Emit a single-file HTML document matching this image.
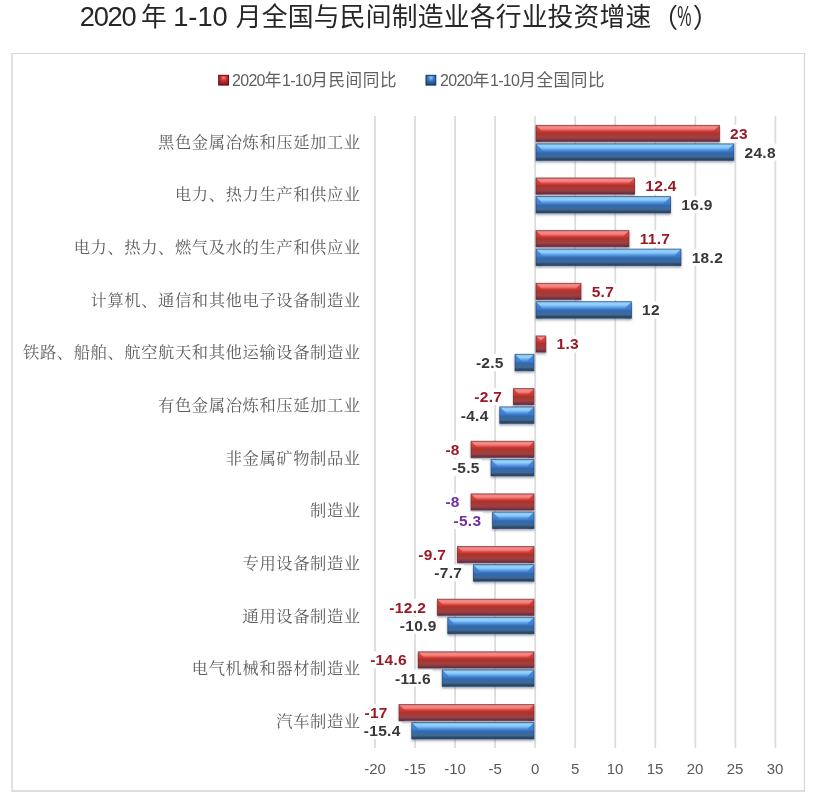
<!DOCTYPE html>
<html><head><meta charset="utf-8"><title>chart</title>
<style>
html,body{margin:0;padding:0;background:#fff;}
body{width:814px;height:800px;overflow:hidden;position:relative;}
svg{position:absolute;left:0;top:0;}
.title{font-family:"Liberation Sans","Noto Sans CJK SC",sans-serif;font-size:25.8px;fill:#262626;}
.leg{font-family:"Liberation Sans","Noto Sans CJK SC",sans-serif;font-size:16.6px;fill:#5f5f5f;letter-spacing:0.6px;}
.dg{font-size:16px;letter-spacing:-0.7px;}
.cat{font-family:"Liberation Serif","Noto Serif CJK SC",serif;font-size:16.3px;fill:#5e5e5e;letter-spacing:0.6px;}
.tick{font-family:"Liberation Sans","Noto Sans CJK SC",sans-serif;font-size:15px;fill:#595959;}
.lblr{font-family:"Liberation Sans","Noto Sans CJK SC",sans-serif;font-size:15.5px;font-weight:bold;fill:#9a1a24;letter-spacing:0.3px;}
.lblb{font-family:"Liberation Sans","Noto Sans CJK SC",sans-serif;font-size:15.5px;font-weight:bold;fill:#383838;letter-spacing:0.3px;}
.lblp{font-family:"Liberation Sans","Noto Sans CJK SC",sans-serif;font-size:15.5px;font-weight:bold;fill:#7030a0;letter-spacing:0.3px;}
</style></head>
<body>
<svg width="814" height="800" viewBox="0 0 814 800">
<defs>
<linearGradient id="gR" x1="0" y1="0" x2="0" y2="1">
<stop offset="0" stop-color="#c46a6a"/>
<stop offset="0.08" stop-color="#f08880"/>
<stop offset="0.16" stop-color="#f58a82"/>
<stop offset="0.25" stop-color="#f07272"/>
<stop offset="0.31" stop-color="#e05252"/>
<stop offset="0.38" stop-color="#c83a38"/>
<stop offset="0.47" stop-color="#b03229"/>
<stop offset="0.6" stop-color="#a83832"/>
<stop offset="0.75" stop-color="#a04040"/>
<stop offset="0.85" stop-color="#8a3a48"/>
<stop offset="0.94" stop-color="#683040"/>
<stop offset="1" stop-color="#6c3848"/>
</linearGradient>
<linearGradient id="gB" x1="0" y1="0" x2="0" y2="1">
<stop offset="0" stop-color="#7aaadc"/>
<stop offset="0.1" stop-color="#90d0fc"/>
<stop offset="0.2" stop-color="#8ecefb"/>
<stop offset="0.27" stop-color="#78b8f0"/>
<stop offset="0.36" stop-color="#5a98e0"/>
<stop offset="0.47" stop-color="#3a78c8"/>
<stop offset="0.55" stop-color="#3068b0"/>
<stop offset="0.68" stop-color="#3a6aa0"/>
<stop offset="0.8" stop-color="#406890"/>
<stop offset="0.9" stop-color="#2a4a70"/>
<stop offset="1" stop-color="#2c4666"/>
</linearGradient>
<linearGradient id="eR" x1="0" y1="0" x2="0" y2="1">
<stop offset="0" stop-color="#d44c46"/>
<stop offset="0.38" stop-color="#c63a36"/>
<stop offset="0.47" stop-color="#b03229"/>
<stop offset="0.6" stop-color="#a83832"/>
<stop offset="0.75" stop-color="#a04040"/>
<stop offset="0.85" stop-color="#8a3a48"/>
<stop offset="0.94" stop-color="#683040"/>
<stop offset="1" stop-color="#6c3848"/>
</linearGradient>
<linearGradient id="eB" x1="0" y1="0" x2="0" y2="1">
<stop offset="0" stop-color="#4c8cda"/>
<stop offset="0.36" stop-color="#3f80d0"/>
<stop offset="0.47" stop-color="#3a78c8"/>
<stop offset="0.55" stop-color="#3068b0"/>
<stop offset="0.68" stop-color="#3a6aa0"/>
<stop offset="0.8" stop-color="#406890"/>
<stop offset="0.9" stop-color="#2a4a70"/>
<stop offset="1" stop-color="#2c4666"/>
</linearGradient>
<linearGradient id="lR" x1="0" y1="0" x2="0" y2="1">
<stop offset="0" stop-color="#d24a44"/>
<stop offset="0.5" stop-color="#b8352e"/>
<stop offset="1" stop-color="#7a2c38"/>
</linearGradient>
<linearGradient id="lB" x1="0" y1="0" x2="0" y2="1">
<stop offset="0" stop-color="#4a8ad8"/>
<stop offset="0.5" stop-color="#3068b0"/>
<stop offset="1" stop-color="#2a4a70"/>
</linearGradient>
<radialGradient id="mR" cx="0.5" cy="0.25" r="0.7">
<stop offset="0" stop-color="#ff7878"/>
<stop offset="0.45" stop-color="#c83030"/>
<stop offset="1" stop-color="#8a1c20"/>
</radialGradient>
<radialGradient id="mB" cx="0.5" cy="0.25" r="0.7">
<stop offset="0" stop-color="#8cc8ff"/>
<stop offset="0.45" stop-color="#3a78c8"/>
<stop offset="1" stop-color="#1f4a80"/>
</radialGradient>
<filter id="sh" x="-20%" y="-40%" width="140%" height="200%">
<feDropShadow dx="0" dy="1.6" stdDeviation="1.1" flood-color="#58667c" flood-opacity="0.6"/>
</filter>
</defs>
<line x1="11" y1="53.5" x2="805.2" y2="53.5" stroke="#d8d8d8" stroke-width="1.2"/>
<line x1="12" y1="53" x2="12" y2="792" stroke="#dedede" stroke-width="1.8"/>
<line x1="804.5" y1="53" x2="804.5" y2="792" stroke="#d8d8d8" stroke-width="1.3"/>
<line x1="11" y1="791" x2="805.2" y2="791" stroke="#dedede" stroke-width="1.8"/>
<text x="79.8" y="26" class="title"><tspan style="font-size:27.3px;letter-spacing:-1.3px">2020</tspan><tspan dx="-1.5"> 年</tspan><tspan dx="-0.8"> </tspan><tspan style="font-size:27.3px">1-10</tspan><tspan dx="0.8"> </tspan><tspan style="letter-spacing:0.19px">月全国与民间制造业各行业投资增速</tspan></text>
<text x="651.6" y="27.4" class="title" style="font-size:26.5px">（</text>
<text transform="translate(677.2,25.8) scale(0.55,1)" x="0" y="0" class="title" style="font-size:29px">%</text>
<text x="692.8" y="27.4" class="title" style="font-size:26.5px">）</text>
<rect x="218.7" y="75.3" width="9.8" height="9.8" fill="url(#mR)" stroke="#5a0c12" stroke-width="1"/>
<text x="232" y="86" class="leg"><tspan class="dg">2020</tspan>年<tspan class="dg">1-10</tspan>月民间同比</text>
<rect x="426" y="75.3" width="9.8" height="9.8" fill="url(#mB)" stroke="#17365d" stroke-width="1"/>
<text x="440" y="86" class="leg"><tspan class="dg">2020</tspan>年<tspan class="dg">1-10</tspan>月全国同比</text>
<line x1="375.00" y1="116.0" x2="375.00" y2="748.0" stroke="#dcdcdc" stroke-width="1.8"/>
<line x1="415.04" y1="116.0" x2="415.04" y2="748.0" stroke="#dcdcdc" stroke-width="1.8"/>
<line x1="455.08" y1="116.0" x2="455.08" y2="748.0" stroke="#dcdcdc" stroke-width="1.8"/>
<line x1="495.12" y1="116.0" x2="495.12" y2="748.0" stroke="#dcdcdc" stroke-width="1.8"/>
<line x1="535.16" y1="116.0" x2="535.16" y2="748.0" stroke="#dcdcdc" stroke-width="1.8"/>
<line x1="575.20" y1="116.0" x2="575.20" y2="748.0" stroke="#dcdcdc" stroke-width="1.8"/>
<line x1="615.24" y1="116.0" x2="615.24" y2="748.0" stroke="#dcdcdc" stroke-width="1.8"/>
<line x1="655.28" y1="116.0" x2="655.28" y2="748.0" stroke="#dcdcdc" stroke-width="1.8"/>
<line x1="695.32" y1="116.0" x2="695.32" y2="748.0" stroke="#dcdcdc" stroke-width="1.8"/>
<line x1="735.36" y1="116.0" x2="735.36" y2="748.0" stroke="#dcdcdc" stroke-width="1.8"/>
<line x1="775.40" y1="116.0" x2="775.40" y2="748.0" stroke="#dcdcdc" stroke-width="1.8"/>
<text x="375.1" y="774" text-anchor="middle" class="tick">-20</text>
<text x="415.1" y="774" text-anchor="middle" class="tick">-15</text>
<text x="455.1" y="774" text-anchor="middle" class="tick">-10</text>
<text x="495.1" y="774" text-anchor="middle" class="tick">-5</text>
<text x="535.1" y="774" text-anchor="middle" class="tick">0</text>
<text x="575.1" y="774" text-anchor="middle" class="tick">5</text>
<text x="615.1" y="774" text-anchor="middle" class="tick">10</text>
<text x="655.1" y="774" text-anchor="middle" class="tick">15</text>
<text x="695.1" y="774" text-anchor="middle" class="tick">20</text>
<text x="735.1" y="774" text-anchor="middle" class="tick">25</text>
<text x="775.1" y="774" text-anchor="middle" class="tick">30</text>
<text x="360.7" y="147.73" text-anchor="end" class="cat">黑色金属冶炼和压延加工业</text>
<g filter="url(#sh)"><rect x="536.00" y="125.30" width="183.40" height="16.20" fill="url(#gR)"/>
<polygon points="536.00,125.30 542.00,131.30 542.00,141.50 536.00,141.50" fill="url(#eR)" opacity="0.95"/>
<polygon points="719.40,125.30 713.40,131.30 713.40,141.50 719.40,141.50" fill="url(#eR)" opacity="0.95"/>
<rect x="536.00" y="125.30" width="183.40" height="16.20" fill="none" stroke="#7a2228" stroke-width="0.8" stroke-opacity="0.75"/></g>
<g filter="url(#sh)"><rect x="536.00" y="143.85" width="197.80" height="16.50" fill="url(#gB)"/>
<polygon points="536.00,143.85 542.00,149.85 542.00,160.35 536.00,160.35" fill="url(#eB)" opacity="0.95"/>
<polygon points="733.80,143.85 727.80,149.85 727.80,160.35 733.80,160.35" fill="url(#eB)" opacity="0.95"/>
<rect x="536.00" y="143.85" width="197.80" height="16.50" fill="none" stroke="#22426a" stroke-width="0.8" stroke-opacity="0.75"/></g>
<text x="360.7" y="200.40" text-anchor="end" class="cat">电力、热力生产和供应业</text>
<g filter="url(#sh)"><rect x="536.00" y="177.95" width="98.60" height="16.20" fill="url(#gR)"/>
<polygon points="536.00,177.95 542.00,183.95 542.00,194.15 536.00,194.15" fill="url(#eR)" opacity="0.95"/>
<polygon points="634.60,177.95 628.60,183.95 628.60,194.15 634.60,194.15" fill="url(#eR)" opacity="0.95"/>
<rect x="536.00" y="177.95" width="98.60" height="16.20" fill="none" stroke="#7a2228" stroke-width="0.8" stroke-opacity="0.75"/></g>
<g filter="url(#sh)"><rect x="536.00" y="196.45" width="134.60" height="16.50" fill="url(#gB)"/>
<polygon points="536.00,196.45 542.00,202.45 542.00,212.95 536.00,212.95" fill="url(#eB)" opacity="0.95"/>
<polygon points="670.60,196.45 664.60,202.45 664.60,212.95 670.60,212.95" fill="url(#eB)" opacity="0.95"/>
<rect x="536.00" y="196.45" width="134.60" height="16.50" fill="none" stroke="#22426a" stroke-width="0.8" stroke-opacity="0.75"/></g>
<text x="360.7" y="253.07" text-anchor="end" class="cat">电力、热力、燃气及水的生产和供应业</text>
<g filter="url(#sh)"><rect x="536.00" y="230.60" width="93.00" height="16.20" fill="url(#gR)"/>
<polygon points="536.00,230.60 542.00,236.60 542.00,246.80 536.00,246.80" fill="url(#eR)" opacity="0.95"/>
<polygon points="629.00,230.60 623.00,236.60 623.00,246.80 629.00,246.80" fill="url(#eR)" opacity="0.95"/>
<rect x="536.00" y="230.60" width="93.00" height="16.20" fill="none" stroke="#7a2228" stroke-width="0.8" stroke-opacity="0.75"/></g>
<g filter="url(#sh)"><rect x="536.00" y="249.05" width="145.00" height="16.50" fill="url(#gB)"/>
<polygon points="536.00,249.05 542.00,255.05 542.00,265.55 536.00,265.55" fill="url(#eB)" opacity="0.95"/>
<polygon points="681.00,249.05 675.00,255.05 675.00,265.55 681.00,265.55" fill="url(#eB)" opacity="0.95"/>
<rect x="536.00" y="249.05" width="145.00" height="16.50" fill="none" stroke="#22426a" stroke-width="0.8" stroke-opacity="0.75"/></g>
<text x="360.7" y="305.73" text-anchor="end" class="cat">计算机、通信和其他电子设备制造业</text>
<g filter="url(#sh)"><rect x="536.00" y="283.25" width="45.00" height="16.20" fill="url(#gR)"/>
<polygon points="536.00,283.25 542.00,289.25 542.00,299.45 536.00,299.45" fill="url(#eR)" opacity="0.95"/>
<polygon points="581.00,283.25 575.00,289.25 575.00,299.45 581.00,299.45" fill="url(#eR)" opacity="0.95"/>
<rect x="536.00" y="283.25" width="45.00" height="16.20" fill="none" stroke="#7a2228" stroke-width="0.8" stroke-opacity="0.75"/></g>
<g filter="url(#sh)"><rect x="536.00" y="301.65" width="95.40" height="16.50" fill="url(#gB)"/>
<polygon points="536.00,301.65 542.00,307.65 542.00,318.15 536.00,318.15" fill="url(#eB)" opacity="0.95"/>
<polygon points="631.40,301.65 625.40,307.65 625.40,318.15 631.40,318.15" fill="url(#eB)" opacity="0.95"/>
<rect x="536.00" y="301.65" width="95.40" height="16.50" fill="none" stroke="#22426a" stroke-width="0.8" stroke-opacity="0.75"/></g>
<text x="360.7" y="358.40" text-anchor="end" class="cat">铁路、船舶、航空航天和其他运输设备制造业</text>
<g filter="url(#sh)"><rect x="536.00" y="335.90" width="9.80" height="16.20" fill="url(#gR)"/>
<polygon points="536.00,335.90 540.90,340.80 540.90,352.10 536.00,352.10" fill="url(#eR)" opacity="0.95"/>
<polygon points="545.80,335.90 540.90,340.80 540.90,352.10 545.80,352.10" fill="url(#eR)" opacity="0.95"/>
<rect x="536.00" y="335.90" width="9.80" height="16.20" fill="none" stroke="#7a2228" stroke-width="0.8" stroke-opacity="0.75"/></g>
<g filter="url(#sh)"><rect x="515.00" y="354.25" width="19.00" height="16.50" fill="url(#gB)"/>
<polygon points="515.00,354.25 521.00,360.25 521.00,370.75 515.00,370.75" fill="url(#eB)" opacity="0.95"/>
<polygon points="534.00,354.25 528.00,360.25 528.00,370.75 534.00,370.75" fill="url(#eB)" opacity="0.95"/>
<rect x="515.00" y="354.25" width="19.00" height="16.50" fill="none" stroke="#22426a" stroke-width="0.8" stroke-opacity="0.75"/></g>
<text x="360.7" y="411.07" text-anchor="end" class="cat">有色金属冶炼和压延加工业</text>
<g filter="url(#sh)"><rect x="513.40" y="388.55" width="20.60" height="16.20" fill="url(#gR)"/>
<polygon points="513.40,388.55 519.40,394.55 519.40,404.75 513.40,404.75" fill="url(#eR)" opacity="0.95"/>
<polygon points="534.00,388.55 528.00,394.55 528.00,404.75 534.00,404.75" fill="url(#eR)" opacity="0.95"/>
<rect x="513.40" y="388.55" width="20.60" height="16.20" fill="none" stroke="#7a2228" stroke-width="0.8" stroke-opacity="0.75"/></g>
<g filter="url(#sh)"><rect x="499.80" y="406.85" width="34.20" height="16.50" fill="url(#gB)"/>
<polygon points="499.80,406.85 505.80,412.85 505.80,423.35 499.80,423.35" fill="url(#eB)" opacity="0.95"/>
<polygon points="534.00,406.85 528.00,412.85 528.00,423.35 534.00,423.35" fill="url(#eB)" opacity="0.95"/>
<rect x="499.80" y="406.85" width="34.20" height="16.50" fill="none" stroke="#22426a" stroke-width="0.8" stroke-opacity="0.75"/></g>
<text x="360.7" y="463.73" text-anchor="end" class="cat">非金属矿物制品业</text>
<g filter="url(#sh)"><rect x="471.00" y="441.20" width="63.00" height="16.20" fill="url(#gR)"/>
<polygon points="471.00,441.20 477.00,447.20 477.00,457.40 471.00,457.40" fill="url(#eR)" opacity="0.95"/>
<polygon points="534.00,441.20 528.00,447.20 528.00,457.40 534.00,457.40" fill="url(#eR)" opacity="0.95"/>
<rect x="471.00" y="441.20" width="63.00" height="16.20" fill="none" stroke="#7a2228" stroke-width="0.8" stroke-opacity="0.75"/></g>
<g filter="url(#sh)"><rect x="491.00" y="459.45" width="43.00" height="16.50" fill="url(#gB)"/>
<polygon points="491.00,459.45 497.00,465.45 497.00,475.95 491.00,475.95" fill="url(#eB)" opacity="0.95"/>
<polygon points="534.00,459.45 528.00,465.45 528.00,475.95 534.00,475.95" fill="url(#eB)" opacity="0.95"/>
<rect x="491.00" y="459.45" width="43.00" height="16.50" fill="none" stroke="#22426a" stroke-width="0.8" stroke-opacity="0.75"/></g>
<text x="360.7" y="516.40" text-anchor="end" class="cat">制造业</text>
<g filter="url(#sh)"><rect x="471.00" y="493.85" width="63.00" height="16.20" fill="url(#gR)"/>
<polygon points="471.00,493.85 477.00,499.85 477.00,510.05 471.00,510.05" fill="url(#eR)" opacity="0.95"/>
<polygon points="534.00,493.85 528.00,499.85 528.00,510.05 534.00,510.05" fill="url(#eR)" opacity="0.95"/>
<rect x="471.00" y="493.85" width="63.00" height="16.20" fill="none" stroke="#7a2228" stroke-width="0.8" stroke-opacity="0.75"/></g>
<g filter="url(#sh)"><rect x="492.60" y="512.05" width="41.40" height="16.50" fill="url(#gB)"/>
<polygon points="492.60,512.05 498.60,518.05 498.60,528.55 492.60,528.55" fill="url(#eB)" opacity="0.95"/>
<polygon points="534.00,512.05 528.00,518.05 528.00,528.55 534.00,528.55" fill="url(#eB)" opacity="0.95"/>
<rect x="492.60" y="512.05" width="41.40" height="16.50" fill="none" stroke="#22426a" stroke-width="0.8" stroke-opacity="0.75"/></g>
<text x="360.7" y="569.07" text-anchor="end" class="cat">专用设备制造业</text>
<g filter="url(#sh)"><rect x="457.40" y="546.50" width="76.60" height="16.20" fill="url(#gR)"/>
<polygon points="457.40,546.50 463.40,552.50 463.40,562.70 457.40,562.70" fill="url(#eR)" opacity="0.95"/>
<polygon points="534.00,546.50 528.00,552.50 528.00,562.70 534.00,562.70" fill="url(#eR)" opacity="0.95"/>
<rect x="457.40" y="546.50" width="76.60" height="16.20" fill="none" stroke="#7a2228" stroke-width="0.8" stroke-opacity="0.75"/></g>
<g filter="url(#sh)"><rect x="473.40" y="564.65" width="60.60" height="16.50" fill="url(#gB)"/>
<polygon points="473.40,564.65 479.40,570.65 479.40,581.15 473.40,581.15" fill="url(#eB)" opacity="0.95"/>
<polygon points="534.00,564.65 528.00,570.65 528.00,581.15 534.00,581.15" fill="url(#eB)" opacity="0.95"/>
<rect x="473.40" y="564.65" width="60.60" height="16.50" fill="none" stroke="#22426a" stroke-width="0.8" stroke-opacity="0.75"/></g>
<text x="360.7" y="621.73" text-anchor="end" class="cat">通用设备制造业</text>
<g filter="url(#sh)"><rect x="437.40" y="599.15" width="96.60" height="16.20" fill="url(#gR)"/>
<polygon points="437.40,599.15 443.40,605.15 443.40,615.35 437.40,615.35" fill="url(#eR)" opacity="0.95"/>
<polygon points="534.00,599.15 528.00,605.15 528.00,615.35 534.00,615.35" fill="url(#eR)" opacity="0.95"/>
<rect x="437.40" y="599.15" width="96.60" height="16.20" fill="none" stroke="#7a2228" stroke-width="0.8" stroke-opacity="0.75"/></g>
<g filter="url(#sh)"><rect x="447.80" y="617.25" width="86.20" height="16.50" fill="url(#gB)"/>
<polygon points="447.80,617.25 453.80,623.25 453.80,633.75 447.80,633.75" fill="url(#eB)" opacity="0.95"/>
<polygon points="534.00,617.25 528.00,623.25 528.00,633.75 534.00,633.75" fill="url(#eB)" opacity="0.95"/>
<rect x="447.80" y="617.25" width="86.20" height="16.50" fill="none" stroke="#22426a" stroke-width="0.8" stroke-opacity="0.75"/></g>
<text x="360.7" y="674.40" text-anchor="end" class="cat">电气机械和器材制造业</text>
<g filter="url(#sh)"><rect x="418.20" y="651.80" width="115.80" height="16.20" fill="url(#gR)"/>
<polygon points="418.20,651.80 424.20,657.80 424.20,668.00 418.20,668.00" fill="url(#eR)" opacity="0.95"/>
<polygon points="534.00,651.80 528.00,657.80 528.00,668.00 534.00,668.00" fill="url(#eR)" opacity="0.95"/>
<rect x="418.20" y="651.80" width="115.80" height="16.20" fill="none" stroke="#7a2228" stroke-width="0.8" stroke-opacity="0.75"/></g>
<g filter="url(#sh)"><rect x="442.20" y="669.85" width="91.80" height="16.50" fill="url(#gB)"/>
<polygon points="442.20,669.85 448.20,675.85 448.20,686.35 442.20,686.35" fill="url(#eB)" opacity="0.95"/>
<polygon points="534.00,669.85 528.00,675.85 528.00,686.35 534.00,686.35" fill="url(#eB)" opacity="0.95"/>
<rect x="442.20" y="669.85" width="91.80" height="16.50" fill="none" stroke="#22426a" stroke-width="0.8" stroke-opacity="0.75"/></g>
<text x="360.7" y="727.07" text-anchor="end" class="cat">汽车制造业</text>
<g filter="url(#sh)"><rect x="399.00" y="704.45" width="135.00" height="16.20" fill="url(#gR)"/>
<polygon points="399.00,704.45 405.00,710.45 405.00,720.65 399.00,720.65" fill="url(#eR)" opacity="0.95"/>
<polygon points="534.00,704.45 528.00,710.45 528.00,720.65 534.00,720.65" fill="url(#eR)" opacity="0.95"/>
<rect x="399.00" y="704.45" width="135.00" height="16.20" fill="none" stroke="#7a2228" stroke-width="0.8" stroke-opacity="0.75"/></g>
<g filter="url(#sh)"><rect x="411.80" y="722.45" width="122.20" height="16.50" fill="url(#gB)"/>
<polygon points="411.80,722.45 417.80,728.45 417.80,738.95 411.80,738.95" fill="url(#eB)" opacity="0.95"/>
<polygon points="534.00,722.45 528.00,728.45 528.00,738.95 534.00,738.95" fill="url(#eB)" opacity="0.95"/>
<rect x="411.80" y="722.45" width="122.20" height="16.50" fill="none" stroke="#22426a" stroke-width="0.8" stroke-opacity="0.75"/></g>
<rect x="728.10" y="124.90" width="21.35" height="17" fill="#fff"/>
<text x="730.10" y="138.80" class="lblr">23</text>
<rect x="742.50" y="143.60" width="34.89" height="17" fill="#fff"/>
<text x="744.50" y="157.50" class="lblb">24.8</text>
<rect x="643.30" y="177.55" width="34.89" height="17" fill="#fff"/>
<text x="645.30" y="191.45" class="lblr">12.4</text>
<rect x="679.30" y="196.20" width="34.89" height="17" fill="#fff"/>
<text x="681.30" y="210.10" class="lblb">16.9</text>
<rect x="637.70" y="230.20" width="34.03" height="17" fill="#fff"/>
<text x="639.70" y="244.10" class="lblr">11.7</text>
<rect x="689.70" y="248.80" width="34.89" height="17" fill="#fff"/>
<text x="691.70" y="262.70" class="lblb">18.2</text>
<rect x="589.70" y="282.85" width="25.96" height="17" fill="#fff"/>
<text x="591.70" y="296.75" class="lblr">5.7</text>
<rect x="640.10" y="301.40" width="21.35" height="17" fill="#fff"/>
<text x="642.10" y="315.30" class="lblb">12</text>
<rect x="554.50" y="335.50" width="25.96" height="17" fill="#fff"/>
<text x="556.50" y="349.40" class="lblr">1.3</text>
<rect x="473.88" y="354.00" width="31.42" height="17" fill="#fff"/>
<text x="475.88" y="367.90" class="lblb">-2.5</text>
<rect x="472.28" y="388.15" width="31.42" height="17" fill="#fff"/>
<text x="474.28" y="402.05" class="lblr">-2.7</text>
<rect x="458.68" y="406.60" width="31.42" height="17" fill="#fff"/>
<text x="460.68" y="420.50" class="lblb">-4.4</text>
<rect x="443.42" y="440.80" width="17.88" height="17" fill="#fff"/>
<text x="445.42" y="454.70" class="lblr">-8</text>
<rect x="449.88" y="459.20" width="31.42" height="17" fill="#fff"/>
<text x="451.88" y="473.10" class="lblb">-5.5</text>
<rect x="443.42" y="493.45" width="17.88" height="17" fill="#fff"/>
<text x="445.42" y="507.35" class="lblp">-8</text>
<rect x="451.48" y="511.80" width="31.42" height="17" fill="#fff"/>
<text x="453.48" y="525.70" class="lblp">-5.3</text>
<rect x="416.28" y="546.10" width="31.42" height="17" fill="#fff"/>
<text x="418.28" y="560.00" class="lblr">-9.7</text>
<rect x="432.28" y="564.40" width="31.42" height="17" fill="#fff"/>
<text x="434.28" y="578.30" class="lblb">-7.7</text>
<rect x="387.36" y="598.75" width="40.34" height="17" fill="#fff"/>
<text x="389.36" y="612.65" class="lblr">-12.2</text>
<rect x="397.76" y="617.00" width="40.34" height="17" fill="#fff"/>
<text x="399.76" y="630.90" class="lblb">-10.9</text>
<rect x="368.16" y="651.40" width="40.34" height="17" fill="#fff"/>
<text x="370.16" y="665.30" class="lblr">-14.6</text>
<rect x="393.02" y="669.60" width="39.48" height="17" fill="#fff"/>
<text x="395.02" y="683.50" class="lblb">-11.6</text>
<rect x="362.49" y="704.05" width="26.81" height="17" fill="#fff"/>
<text x="364.49" y="717.95" class="lblr">-17</text>
<rect x="361.76" y="722.20" width="40.34" height="17" fill="#fff"/>
<text x="363.76" y="736.10" class="lblb">-15.4</text>
</svg>
</body></html>
